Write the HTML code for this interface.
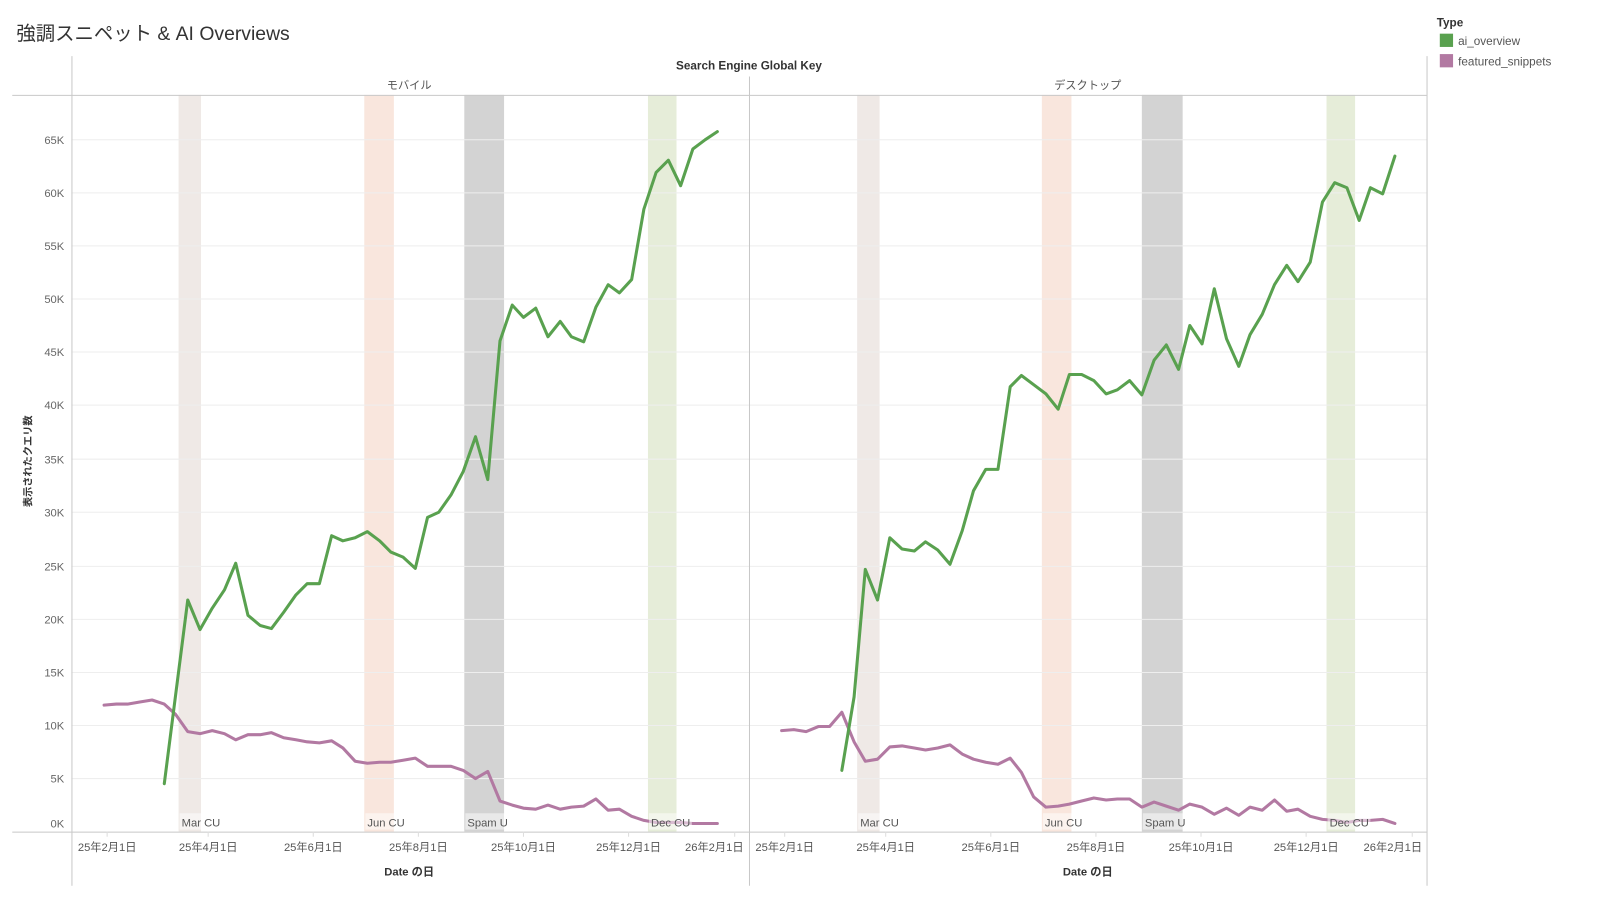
<!DOCTYPE html>
<html><head><meta charset="utf-8"><style>
html,body{margin:0;padding:0;background:#fff;}
svg{display:block;font-family:"Liberation Sans","Noto Sans CJK JP",sans-serif;}
</style></head><body>
<svg width="1600" height="900" viewBox="0 0 1568 882" preserveAspectRatio="none" xmlns="http://www.w3.org/2000/svg">
<text x="16" y="39" font-size="19" fill="#333">強調スニペット &amp; AI Overviews</text>
<text x="734" y="68" font-size="11.5" font-weight="bold" fill="#333" text-anchor="middle">Search Engine Global Key</text>
<text x="401" y="87" font-size="11" fill="#555" text-anchor="middle">モバイル</text>
<text x="1066" y="87" font-size="11" fill="#555" text-anchor="middle">デスクトップ</text>
<g>
<rect x="175" y="93" width="22" height="722" fill="#efe9e6"/>
<rect x="357" y="93" width="29" height="722" fill="#f9e6dd"/>
<rect x="455" y="93" width="39" height="722" fill="#d3d3d3"/>
<rect x="635" y="93" width="28" height="722" fill="#e6edd9"/>
<rect x="840" y="93" width="22" height="722" fill="#efe9e6"/>
<rect x="1021" y="93" width="29" height="722" fill="#f9e6dd"/>
<rect x="1119" y="93" width="40" height="722" fill="#d3d3d3"/>
<rect x="1300" y="93" width="28" height="722" fill="#e6edd9"/>
</g>
<g stroke="#eeeeee" stroke-width="1">
<line x1="70" x2="1398" y1="763" y2="763"/><line x1="70" x2="1398" y1="711" y2="711"/>
<line x1="70" x2="1398" y1="659" y2="659"/><line x1="70" x2="1398" y1="607" y2="607"/>
<line x1="70" x2="1398" y1="555" y2="555"/><line x1="70" x2="1398" y1="502" y2="502"/>
<line x1="70" x2="1398" y1="450" y2="450"/><line x1="70" x2="1398" y1="397" y2="397"/>
<line x1="70" x2="1398" y1="345" y2="345"/><line x1="70" x2="1398" y1="293" y2="293"/>
<line x1="70" x2="1398" y1="241" y2="241"/><line x1="70" x2="1398" y1="189" y2="189"/>
<line x1="70" x2="1398" y1="137" y2="137"/>
</g>
<g font-size="11" fill="#666" text-anchor="end">
<text x="63" y="811">0K</text><text x="63" y="767">5K</text><text x="63" y="715">10K</text>
<text x="63" y="663">15K</text><text x="63" y="611">20K</text><text x="63" y="559">25K</text>
<text x="63" y="506">30K</text><text x="63" y="454">35K</text><text x="63" y="401">40K</text>
<text x="63" y="349">45K</text><text x="63" y="297">50K</text><text x="63" y="245">55K</text>
<text x="63" y="193">60K</text><text x="63" y="141">65K</text>
</g>
<text transform="translate(31,452) rotate(-90)" font-size="10" font-weight="bold" fill="#333" text-anchor="middle">表示されたクエリ数</text>
<g stroke="#c8c8c8" stroke-width="1">
<line x1="12" x2="1398" y1="93.5" y2="93.5"/>
<line x1="12" x2="1398" y1="815.5" y2="815.5"/>
<line x1="70.5" x2="70.5" y1="55" y2="868"/>
<line x1="734.5" x2="734.5" y1="75" y2="868"/>
<line x1="1398.5" x2="1398.5" y1="55" y2="868"/>
</g>
<g stroke="#ddd"><line x1="105" x2="105" y1="815" y2="820"/><line x1="204" x2="204" y1="815" y2="820"/><line x1="307" x2="307" y1="815" y2="820"/><line x1="410" x2="410" y1="815" y2="820"/><line x1="513" x2="513" y1="815" y2="820"/><line x1="616" x2="616" y1="815" y2="820"/><line x1="720" x2="720" y1="815" y2="820"/>
<line x1="769" x2="769" y1="815" y2="820"/><line x1="868" x2="868" y1="815" y2="820"/><line x1="971" x2="971" y1="815" y2="820"/><line x1="1074" x2="1074" y1="815" y2="820"/><line x1="1177" x2="1177" y1="815" y2="820"/><line x1="1280" x2="1280" y1="815" y2="820"/><line x1="1384" x2="1384" y1="815" y2="820"/></g>
<g font-size="11" fill="#555" text-anchor="middle">
<text x="105" y="834">25年2月1日</text><text x="204" y="834">25年4月1日</text><text x="307" y="834">25年6月1日</text>
<text x="410" y="834">25年8月1日</text><text x="513" y="834">25年10月1日</text><text x="616" y="834">25年12月1日</text>
<text x="700" y="834">26年2月1日</text>
<text x="769" y="834">25年2月1日</text><text x="868" y="834">25年4月1日</text><text x="971" y="834">25年6月1日</text>
<text x="1074" y="834">25年8月1日</text><text x="1177" y="834">25年10月1日</text><text x="1280" y="834">25年12月1日</text>
<text x="1365" y="834">26年2月1日</text>
</g>
<text x="401" y="858" font-size="11" font-weight="bold" fill="#333" text-anchor="middle">Date の日</text>
<text x="1066" y="858" font-size="11" font-weight="bold" fill="#333" text-anchor="middle">Date の日</text>
<g fill="none" stroke-width="3" stroke-linejoin="round" stroke-linecap="round">
<polyline stroke="#b279a2" points="102,691 114,690 125,690 137,688 149,686 161,690 172,700 184,717 196,719 208,716 220,719 231,725 243,720 255,720 266,718 278,723 290,725 301,727 313,728 325,726 336,733 348,746 360,748 372,747 383,747 395,745 407,743 419,751 430,751 442,751 454,755 466,763 478,756 490,785 502,789 513,792 525,793 537,789 549,793 560,791 572,790 584,783 596,794 607,793 619,800 631,804 643,806 655,806 667,806 679,807 691,807 703,807"/>
<polyline stroke="#59a14f" points="161,768 184,588 196,617 208,596 220,578 231,552 243,603 255,613 266,616 278,600 290,583 301,572 313,572 325,525 336,530 348,527 360,521 372,530 383,541 395,546 407,557 419,507 430,502 442,485 454,462 466,428 478,470 490,334 502,299 513,311 525,302 537,330 549,315 560,330 572,335 584,301 596,279 607,287 619,274 631,205 643,169 655,157 667,182 679,146 691,137 703,129"/>
<polyline stroke="#b279a2" points="766,716 778,715 790,717 802,712 813,712 825,698 837,727 848,746 860,744 872,732 884,731 896,733 907,735 919,733 931,730 943,739 954,744 966,747 978,749 990,743 1001,757 1013,781 1025,791 1037,790 1048,788 1060,785 1072,782 1084,784 1095,783 1107,783 1119,791 1131,786 1143,790 1155,794 1166,788 1178,791 1190,798 1202,792 1214,799 1225,791 1237,794 1249,784 1261,795 1272,793 1284,800 1296,803 1308,804 1320,806 1332,804 1343,804 1355,803 1367,807"/>
<polyline stroke="#59a14f" points="825,755 837,683 848,558 860,588 872,527 884,538 896,540 907,531 919,539 931,553 943,520 954,481 966,460 978,460 990,379 1001,368 1013,377 1025,386 1037,401 1048,367 1060,367 1072,373 1084,386 1095,382 1107,373 1119,387 1131,353 1143,338 1155,362 1166,319 1178,337 1190,283 1202,332 1214,359 1225,328 1237,308 1249,279 1261,260 1272,276 1284,257 1296,198 1308,179 1320,184 1332,216 1343,184 1355,190 1367,153"/>
</g>
<g font-size="11" fill="#555">
<rect x="176" y="797" width="42" height="16" fill="#fff" fill-opacity="0.5"/><text x="178" y="810">Mar CU</text>
<rect x="358" y="797" width="40" height="16" fill="#fff" fill-opacity="0.5"/><text x="360" y="810">Jun CU</text>
<rect x="456" y="797" width="44" height="16" fill="#fff" fill-opacity="0.5"/><text x="458" y="810">Spam U</text>
<rect x="636" y="797" width="42" height="16" fill="#fff" fill-opacity="0.5"/><text x="638" y="810">Dec CU</text>
<rect x="841" y="797" width="42" height="16" fill="#fff" fill-opacity="0.5"/><text x="843" y="810">Mar CU</text>
<rect x="1022" y="797" width="40" height="16" fill="#fff" fill-opacity="0.5"/><text x="1024" y="810">Jun CU</text>
<rect x="1120" y="797" width="44" height="16" fill="#fff" fill-opacity="0.5"/><text x="1122" y="810">Spam U</text>
<rect x="1301" y="797" width="42" height="16" fill="#fff" fill-opacity="0.5"/><text x="1303" y="810">Dec CU</text>
</g>
<text x="1408" y="26" font-size="11.5" font-weight="bold" fill="#333">Type</text>
<rect x="1411" y="33" width="13" height="13" fill="#59a14f"/>
<text x="1429" y="44" font-size="11.5" fill="#555">ai_overview</text>
<rect x="1411" y="53" width="13" height="13" fill="#b279a2"/>
<text x="1429" y="64" font-size="11.5" fill="#555">featured_snippets</text>
</svg>
</body></html>
